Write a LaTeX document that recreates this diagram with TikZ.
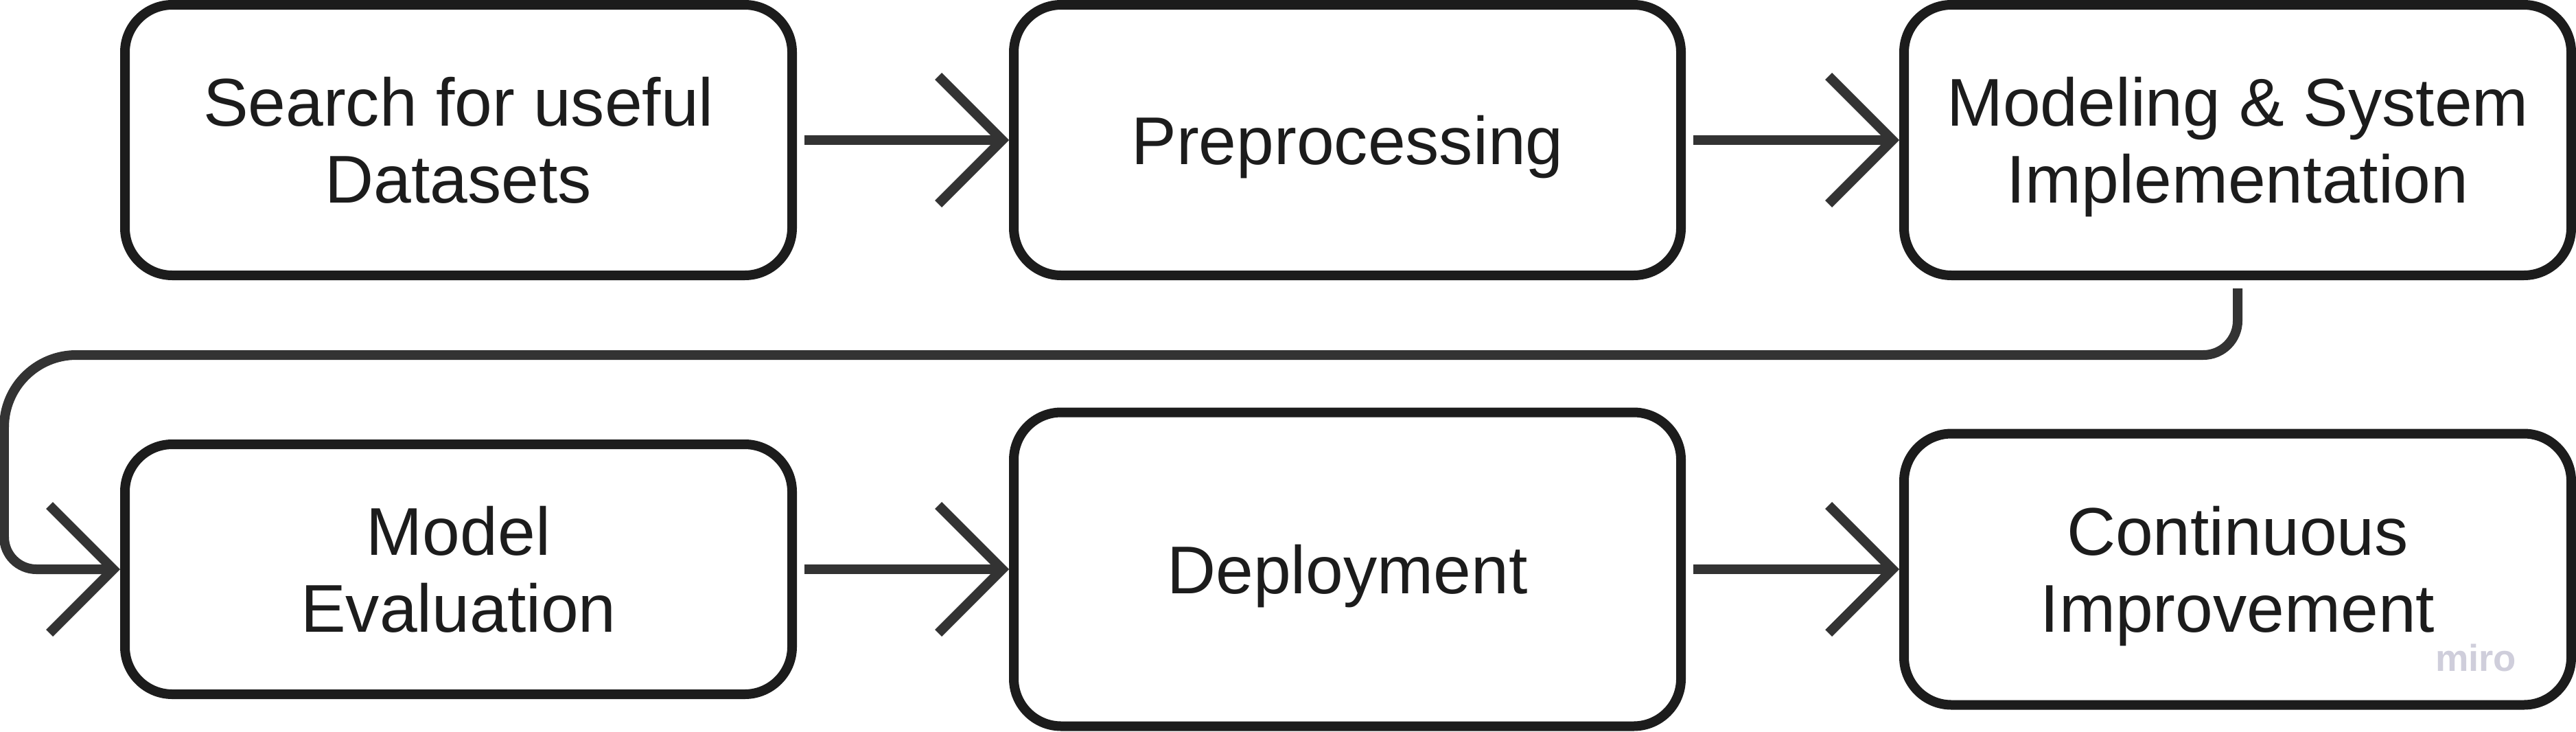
\documentclass[tikz,border=0pt]{standalone}
\usepackage{fontspec}
\setmainfont{Liberation Sans}
\usetikzlibrary{arrows.meta,calc}
\definecolor{boxc}{RGB}{28,28,28}
\definecolor{connc}{RGB}{51,51,51}
\definecolor{miroc}{RGB}{207,206,219}
\tikzset{
  stepbox/.style={draw=boxc, line width=0.14cm, rounded corners=0.69cm,
    minimum width=9.72cm, inner sep=0pt, align=center, text=boxc,
    font=\fontsize{28pt}{32pt}\selectfont, text depth=0pt, fill=white},
  conn/.style={draw=connc, line width=0.14cm,
    -{Straight Barb[sharp, length=0.93cm, width=1.86cm]}},
}
\begin{document}
\begin{tikzpicture}
\fill[white] (0,0) rectangle (37.53,-10.65);
\useasboundingbox (0,0) rectangle (37.53,-10.65);

\node[stepbox, minimum height=3.94cm] (n1) at (6.68,-2.04) {Search for useful\\Datasets};
\node[stepbox, minimum height=3.94cm] (n2) at (19.63,-2.04) {Preprocessing};
\node[stepbox, minimum height=3.94cm] (n3) at (32.60,-2.04) {Modeling \& System\\Implementation};
\node[stepbox, minimum height=3.64cm] (n4) at (6.68,-8.29) {Model\\Evaluation};
\node[stepbox, minimum height=4.57cm] (n5) at (19.63,-8.29) {Deployment};
\node[stepbox, minimum height=3.95cm] (n6) at (32.60,-8.29) {Continuous\\Improvement};

\draw[conn, shorten <=0.11cm] (n1.east) -- (n2.west);
\draw[conn, shorten <=0.11cm] (n2.east) -- (n3.west);
\draw[conn, shorten <=0.11cm] (n4.east) -- (n5.west);
\draw[conn, shorten <=0.11cm] (n5.east) -- (n6.west);

\draw[conn] ([yshift=-0.12cm]n3.south) -- (32.60,-4.67)
  arc[start angle=0, end angle=-90, radius=0.5] -- (1.11,-5.17)
  arc[start angle=90, end angle=180, radius=1.05] -- (0.06,-7.82)
  arc[start angle=180, end angle=270, radius=0.47] -- (n4.west);

\node[text=miroc, font=\bfseries\fontsize{15.5pt}{18pt}\selectfont, anchor=base, inner sep=0pt] (miro) at (36.07,-9.77) {miro};
\end{tikzpicture}
\end{document}
